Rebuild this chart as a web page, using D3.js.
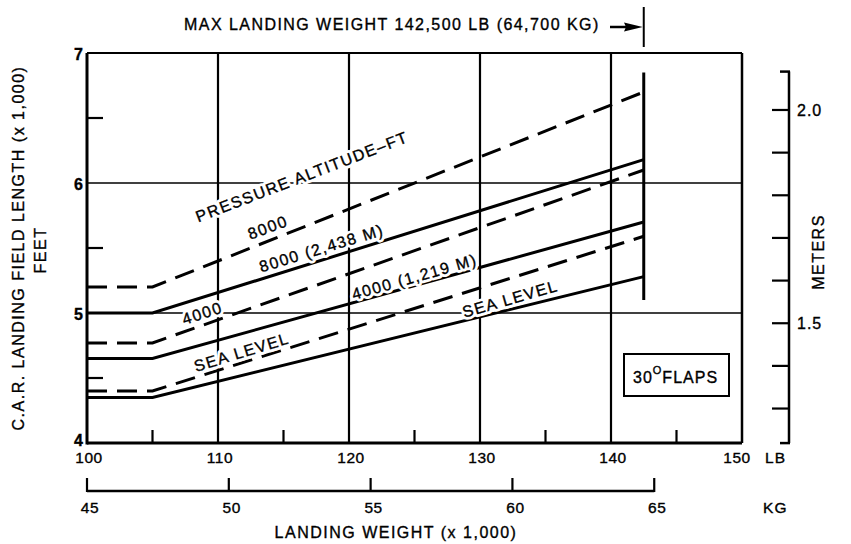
<!DOCTYPE html>
<html>
<head>
<meta charset="utf-8">
<script src="https://cdn.jsdelivr.net/npm/d3@7"></script>
<style>
    body { margin: 0; background: #fff; }
    svg { display: block; }
    text { font-family: "Liberation Sans", Arial, Helvetica, sans-serif; fill: #000; stroke: #000; stroke-width: 0.35px; }
    text.halo { fill: #fff; stroke: #fff; stroke-width: 6px; stroke-linejoin: round; }
</style>
</head>
<body>
<svg id="chart" width="851" height="544"></svg>
<script>
// Landing weight (x 1,000 lb) where the curves change slope
const weights = [100, 105, 142.5];

// Field length (x 1,000 ft) for each pressure altitude
const solidSeaLevel = [4.35, 4.35, 5.28];
const dashedSeaLevel = [4.4, 4.4, 5.59];
const solid4000 = [4.65, 4.65, 5.7];
const dashed4000 = [4.77, 4.77, 6.1];
const solid8000 = [5.0, 5.0, 6.18];
const dashed8000 = [5.2, 5.2, 6.7];

// Axes
const lbTicks = [100, 110, 120, 130, 140, 150];
const lbMinor = [105, 115, 125, 135, 145];
const lbGrid = [110, 120, 130, 140];
const ftTicks = [4, 5, 6, 7];
const ftMinor = [4.5, 5.5, 6.5];
const ftGrid = [5, 6];
const kgTicks = [45, 50, 55, 60, 65];
const meterTicks = [1.3, 1.4, 1.5, 1.6, 1.7, 1.8, 1.9, 2.0];
const meterLabels = [1.5, 2.0];
const meterSpan = [1.219, 2.09];

const maxLandingWeight = 142.5;
const maxLineSpan = [5.1, 6.85];
const kgToLb = 2.20462;
const ftPerM = 3.28084;

// Curve labels: [text, weight, length, angle]
const curveLabels = [
    ['PRESSURE ALTITUDE\u2013FT', 116.4, 6.05, -21],
    ['8000', 113.8, 5.66, -20],
    ['8000 (2,438 M)', 117.9, 5.5, -17],
    ['4000', 108.8, 5.0, -18],
    ['4000 (1,219 M)', 125.0, 5.28, -16],
    ['SEA LEVEL', 111.8, 4.7, -17],
    ['SEA LEVEL', 132.3, 5.11, -16]
];

const plotLeft = 87, plotRight = 742, plotTop = 53, plotBottom = 443;

const svg = d3.select('#chart');

const x = d3.scaleLinear().domain([100, 150]).range([plotLeft, plotRight]);
const y = d3.scaleLinear().domain([4, 7]).range([plotBottom, plotTop]);
const yM = d3.scaleLinear().domain([4 / ftPerM, 7 / ftPerM]).range([plotBottom, plotTop]);
const xKg = d3.scaleLinear().domain([45, 65]).range([x(100), x(65 * kgToLb)]);

// Horizontal grid
svg.append('g')
    .selectAll('line')
    .data(ftGrid)
    .enter().append('line')
    .attr('x1', plotLeft).attr('x2', plotRight)
    .attr('y1', d => y(d)).attr('y2', d => y(d))
    .attr('stroke', '#000')
    .attr('stroke-width', 1.3);

// Vertical grid
svg.append('g')
    .selectAll('line')
    .data(lbGrid)
    .enter().append('line')
    .attr('x1', d => x(d)).attr('x2', d => x(d))
    .attr('y1', plotTop).attr('y2', plotBottom)
    .attr('stroke', '#000')
    .attr('stroke-width', 2.2);

// Frame
svg.append('line').attr('x1', plotLeft).attr('x2', plotRight).attr('y1', plotTop).attr('y2', plotTop)
    .attr('stroke', '#000').attr('stroke-width', 1.8);
svg.append('line').attr('x1', plotRight).attr('x2', plotRight).attr('y1', plotTop).attr('y2', plotBottom)
    .attr('stroke', '#000').attr('stroke-width', 2.5);
svg.append('line').attr('x1', plotLeft).attr('x2', plotLeft).attr('y1', plotTop).attr('y2', plotBottom + 1.5)
    .attr('stroke', '#000').attr('stroke-width', 3);
svg.append('line').attr('x1', plotLeft).attr('x2', plotRight).attr('y1', plotBottom).attr('y2', plotBottom)
    .attr('stroke', '#000').attr('stroke-width', 3);

// Minor ticks inside the frame
svg.append('g')
    .selectAll('line')
    .data(ftMinor)
    .enter().append('line')
    .attr('x1', plotLeft).attr('x2', plotLeft + 16)
    .attr('y1', d => y(d)).attr('y2', d => y(d))
    .attr('stroke', '#000').attr('stroke-width', 2.2);

svg.append('g')
    .selectAll('line')
    .data(lbMinor)
    .enter().append('line')
    .attr('x1', d => x(d)).attr('x2', d => x(d))
    .attr('y1', plotBottom).attr('y2', plotBottom - 13)
    .attr('stroke', '#000').attr('stroke-width', 2.2);

// Tick labels
svg.append('g')
    .selectAll('text')
    .data(ftTicks)
    .enter().append('text')
    .attr('x', plotLeft - 4)
    .attr('y', d => y(d) + (d === 4 ? 3 : 7))
    .attr('text-anchor', 'end')
    .attr('font-size', 16)
    .attr('font-weight', 'bold')
    .text(d => d);

svg.append('g')
    .selectAll('text')
    .data(lbTicks)
    .enter().append('text')
    .attr('x', d => x(d) + (d === 150 ? -5 : 2))
    .attr('y', plotBottom + 20)
    .attr('text-anchor', 'middle')
    .attr('font-size', 15.5)
    .attr('letter-spacing', 0.6)
    .text(d => d);

svg.append('text')
    .attr('x', 765).attr('y', plotBottom + 20)
    .attr('font-size', 15.5).attr('letter-spacing', 1.2)
    .text('LB');

// KG axis
const kgY = 491;
svg.append('line')
    .attr('x1', xKg(45)).attr('x2', xKg(65))
    .attr('y1', kgY).attr('y2', kgY)
    .attr('stroke', '#000').attr('stroke-width', 2.5);

svg.append('g')
    .selectAll('line')
    .data(kgTicks)
    .enter().append('line')
    .attr('x1', d => xKg(d)).attr('x2', d => xKg(d))
    .attr('y1', kgY + 1).attr('y2', kgY - 13)
    .attr('stroke', '#000').attr('stroke-width', 2.2);

svg.append('g')
    .selectAll('text')
    .data(kgTicks)
    .enter().append('text')
    .attr('x', d => xKg(d) + 3)
    .attr('y', 513)
    .attr('text-anchor', 'middle')
    .attr('font-size', 15.5)
    .attr('letter-spacing', 0.6)
    .text(d => d);

svg.append('text')
    .attr('x', 763).attr('y', 513)
    .attr('font-size', 15.5).attr('letter-spacing', 1.2)
    .text('KG');

svg.append('text')
    .attr('x', 396).attr('y', 538)
    .attr('text-anchor', 'middle')
    .attr('font-size', 16).attr('letter-spacing', 1.5)
    .text('LANDING WEIGHT (x 1,000)');

// Left axis title
svg.append('text')
    .attr('transform', 'translate(24,248) rotate(-90)')
    .attr('text-anchor', 'middle')
    .attr('font-size', 16).attr('letter-spacing', 1.5)
    .text('C.A.R. LANDING FIELD LENGTH (x 1,000)');

svg.append('text')
    .attr('transform', 'translate(46,250) rotate(-90)')
    .attr('text-anchor', 'middle')
    .attr('font-size', 16).attr('letter-spacing', 1.5)
    .text('FEET');

// Meters axis
const mX = 789;
svg.append('line')
    .attr('x1', mX).attr('x2', mX)
    .attr('y1', yM(meterSpan[0])).attr('y2', yM(meterSpan[1]))
    .attr('stroke', '#000').attr('stroke-width', 2.5);

svg.append('g')
    .selectAll('line')
    .data(meterSpan)
    .enter().append('line')
    .attr('x1', mX + 1).attr('x2', mX - 9)
    .attr('y1', d => yM(d)).attr('y2', d => yM(d))
    .attr('stroke', '#000').attr('stroke-width', 2.5);

svg.append('g')
    .selectAll('line')
    .data(meterTicks)
    .enter().append('line')
    .attr('x1', mX).attr('x2', mX - 17)
    .attr('y1', d => yM(d)).attr('y2', d => yM(d))
    .attr('stroke', '#000').attr('stroke-width', 2.2);

svg.append('g')
    .selectAll('text')
    .data(meterLabels)
    .enter().append('text')
    .attr('x', mX + 8)
    .attr('y', d => yM(d) + 6)
    .attr('font-size', 16).attr('letter-spacing', 1)
    .text(d => d.toFixed(1));

svg.append('text')
    .attr('transform', 'translate(824,252) rotate(-90)')
    .attr('text-anchor', 'middle')
    .attr('font-size', 16).attr('letter-spacing', 1.5)
    .text('METERS');

// Max landing weight marker
svg.append('line')
    .attr('x1', x(maxLandingWeight)).attr('x2', x(maxLandingWeight))
    .attr('y1', y(maxLineSpan[0])).attr('y2', y(maxLineSpan[1]))
    .attr('stroke', '#000').attr('stroke-width', 3);

svg.append('line')
    .attr('x1', x(maxLandingWeight)).attr('x2', x(maxLandingWeight))
    .attr('y1', 7).attr('y2', 47)
    .attr('stroke', '#000').attr('stroke-width', 2);

svg.append('line')
    .attr('x1', 610).attr('x2', 630)
    .attr('y1', 27).attr('y2', 27)
    .attr('stroke', '#000').attr('stroke-width', 2.5);

svg.append('path')
    .attr('d', `M${x(maxLandingWeight) - 1},27 L624,22.5 L626,27 L624,31.5 Z`)
    .attr('fill', '#000');

svg.append('text')
    .attr('x', 184).attr('y', 30)
    .attr('font-size', 16).attr('letter-spacing', 1.45)
    .text('MAX LANDING WEIGHT 142,500 LB (64,700 KG)');

// Curves
const line = d3.line()
    .x((d, i) => x(weights[i]))
    .y(d => y(d));

const curves = [
    { values: solidSeaLevel, dashed: false },
    { values: dashedSeaLevel, dashed: true },
    { values: solid4000, dashed: false },
    { values: dashed4000, dashed: true },
    { values: solid8000, dashed: false },
    { values: dashed8000, dashed: true }
];

svg.append('g')
    .selectAll('path')
    .data(curves)
    .enter().append('path')
    .attr('d', d => line(d.values))
    .attr('fill', 'none')
    .attr('stroke', '#000')
    .attr('stroke-width', 3)
    .attr('stroke-dasharray', d => d.dashed ? '20,10' : null);

// Curve labels: white backing first so they break the grid, then the ink
['halo', 'ink'].forEach(cls => {
    svg.append('g')
        .selectAll('text')
        .data(curveLabels)
        .enter().append('text')
        .attr('class', cls)
        .attr('transform', d => `translate(${x(d[1])},${y(d[2])}) rotate(${d[3]})`)
        .attr('text-anchor', 'middle')
        .attr('dy', '0.36em')
        .attr('font-size', 16)
        .attr('letter-spacing', 1.5)
        .text(d => d[0]);
});

// Flaps box
svg.append('rect')
    .attr('x', 624).attr('y', 354)
    .attr('width', 105).attr('height', 42)
    .attr('fill', '#fff')
    .attr('stroke', '#000').attr('stroke-width', 2);

const flaps = svg.append('text')
    .attr('x', 633).attr('y', 383)
    .attr('font-size', 16).attr('letter-spacing', 1);
flaps.append('tspan').text('30');
flaps.append('tspan').attr('font-size', 11).attr('dy', -9).text('O');
flaps.append('tspan').attr('dy', 9).text('FLAPS');
</script>
</body>
</html>
